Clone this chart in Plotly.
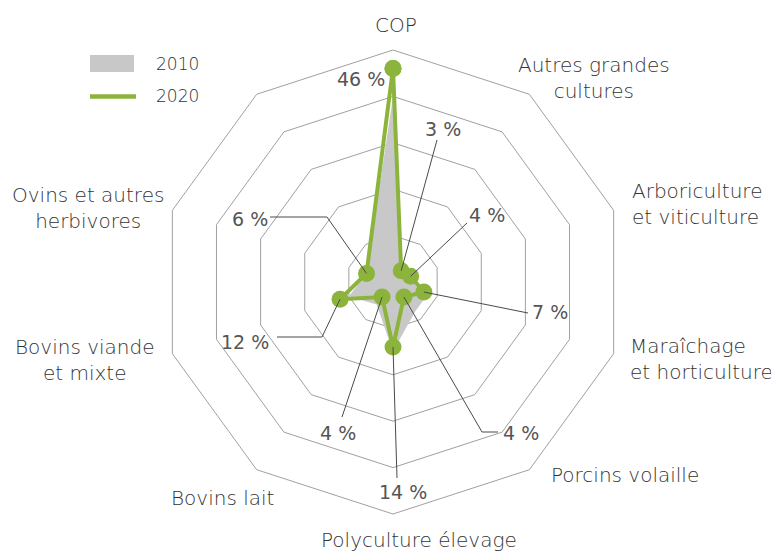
import math
import plotly.graph_objects as go

W, H = 779, 552

# ---------------- data ----------------
categories = ["COP", "Autres grandes cultures", "Arboriculture et viticulture",
              "Maraîchage et horticulture", "Porcins volaille", "Polyculture élevage",
              "Bovins lait", "Bovins viande et mixte", "Ovins et autres herbivores"]
unused_slot = " "            # tenth spoke of the decagon, left empty
values_2010 = [40, 3, 4, 8, 8, 15, 6, 10, 6]
values_2020 = [46, 3, 4, 7, 4, 14, 4, 12, 6]
value_labels_2020 = ["46 %", "3 %", "4 %", "7 %", "4 %", "14 %", "4 %", "12 %", "6 %"]
radial_ticks = [10, 20, 30, 40, 50]
series_names = ["2010", "2020"]
category_texts = ["COP", "Autres grandes<br>cultures", "Arboriculture<br>et viticulture",
                  "Maraîchage<br>et horticulture", "Porcins volaille", "Polyculture élevage",
                  "Bovins lait", "Bovins viande<br>et mixte", "Ovins et autres<br>herbivores"]

# ---------------- layout constants (page pixels) ----------------
OFF = 8                      # page body margin around the figure
CX, CY, RPX = 393, 282, 232
RMAX = 50
N_SPOKES = 10
GREEN = "#8cb43c"
GRAY_FILL = "#c8c8c8"
GRID = "#a0a0a0"
FONT = "DejaVu Sans"

# category label anchors: (x, y, xanchor, align)
cat_pos = [(396, 25, "center", "center"), (594, 78, "center", "center"),
           (630, 204, "left", "left"), (628, 359, "left", "left"),
           (625, 475, "center", "center"), (419, 540, "center", "center"),
           (223, 498, "center", "center"), (85, 360, "center", "center"),
           (88, 208, "center", "center")]
# value label centres and leader-line waypoints (after the data point)
val_pos = [(361, 79), (443, 129), (487, 215), (550, 312), (521, 433),
           (403, 492), (338, 433), (245, 342), (250, 219)]
leaders = [[], [(437, 140)], [(467, 223)], [(528, 313)], [(482, 432), (498, 432)],
           [(397, 478)], [(342, 417)], [(322, 337), (277, 337)], [(327, 217), (270, 217)]]


def px(x):
    return (x - OFF) / W


def py(y):
    return 1 - (y - OFF) / H


def data_px(v, i):
    a = math.radians(90 - 360 / N_SPOKES * i)
    return CX + v * RPX / RMAX * math.cos(a), CY - v * RPX / RMAX * math.sin(a)


theta_closed = categories + [categories[0]]

fig = go.Figure()
fig.add_trace(go.Scatterpolar(
    r=values_2010 + [values_2010[0]], theta=theta_closed, name=series_names[0],
    mode="lines", fill="toself", fillcolor=GRAY_FILL,
    line=dict(color="rgba(0,0,0,0)", width=0), showlegend=False, hoverinfo="skip"))
fig.add_trace(go.Scatterpolar(
    r=values_2020 + [values_2020[0]], theta=theta_closed, name=series_names[1],
    mode="lines+markers", line=dict(color=GREEN, width=4),
    marker=dict(color=GREEN, size=17), showlegend=False))

shapes = []
annotations = []

# leader lines
for i, pts in enumerate(leaders):
    if not pts:
        continue
    x0, y0 = data_px(values_2020[i], i)
    path = f"M {px(x0)} {py(y0)}" + "".join(f" L {px(x)} {py(y)}" for x, y in pts)
    shapes.append(dict(type="path", xref="paper", yref="paper", path=path,
                       line=dict(color="#4a4a4a", width=1), layer="above"))

# value labels
for (x, y), t in zip(val_pos, value_labels_2020):
    annotations.append(dict(x=px(x), y=py(y), xref="paper", yref="paper", text=t,
                            showarrow=False, xanchor="center", yanchor="middle",
                            font=dict(family=FONT, size=19, color="#555555")))

# category labels
for (x, y, xa, al), t in zip(cat_pos, category_texts):
    annotations.append(dict(x=px(x), y=py(y), xref="paper", yref="paper", text=t,
                            showarrow=False, xanchor=xa, yanchor="middle", align=al,
                            font=dict(family=FONT, size=20, color="#333333", weight=300)))

# legend
shapes.append(dict(type="rect", xref="paper", yref="paper", x0=px(90), x1=px(134),
                   y0=py(72), y1=py(55), fillcolor=GRAY_FILL, line=dict(width=0)))
shapes.append(dict(type="line", xref="paper", yref="paper", x0=px(90), x1=px(136),
                   y0=py(96.5), y1=py(96.5), line=dict(color=GREEN, width=4.5)))
for yy, t in zip([64, 96], series_names):
    annotations.append(dict(x=px(154), y=py(yy), xref="paper", yref="paper", text=t,
                            showarrow=False, xanchor="left", yanchor="middle",
                            font=dict(family=FONT, size=17, color="#333333", weight=300)))

fig.update_layout(
    width=W, height=H, margin=dict(l=0, r=0, t=0, b=0),
    paper_bgcolor="white", plot_bgcolor="white",
    polar=dict(
        domain=dict(x=[px(CX - RPX), px(CX + RPX)],
                    y=[py(CY + RPX), py(CY - RPX)]),
        gridshape="linear", bgcolor="rgba(0,0,0,0)",
        radialaxis=dict(range=[0, RMAX], tickvals=radial_ticks, showticklabels=False,
                        ticks="", showline=False, gridcolor=GRID, gridwidth=1),
        angularaxis=dict(type="category", categoryarray=categories + [unused_slot],
                         rotation=90, direction="clockwise", showticklabels=False,
                         ticks="", showgrid=False, showline=True, linecolor=GRID,
                         linewidth=1),
    ),
    shapes=shapes, annotations=annotations, showlegend=False,
)

fig.write_html("out.html", config={"displayModeBar": False})
